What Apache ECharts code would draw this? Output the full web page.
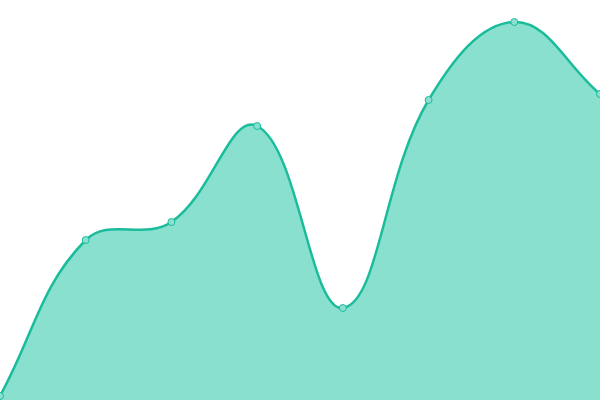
<!DOCTYPE html>
<html>
<head>
<meta charset="utf-8">
<script src="https://cdn.jsdelivr.net/npm/echarts@6/dist/echarts.min.js"></script>
<style>html,body{margin:0;padding:0;background:#fff}#c{width:600px;height:400px}</style>
</head>
<body>
<div id="c"></div>
<script>
var categories = ['A', 'B', 'C', 'D', 'E', 'F', 'G', 'H'];
var values = [4, 160, 178, 274, 92, 300, 378, 306];
var tension = 0.4;

function buildPaths(api) {
  var pts = values.map(function (v, i) { return api.coord([i, v]); });
  var base0 = api.coord([0, 0]);
  var baseN = api.coord([values.length - 1, 0]);
  var n = pts.length;
  var cps = [];
  for (var i = 0; i < n; i++) {
    var p1 = pts[i];
    var p0 = i > 0 ? pts[i - 1] : p1;
    var p2 = i < n - 1 ? pts[i + 1] : p1;
    var d01 = Math.hypot(p1[0] - p0[0], p1[1] - p0[1]);
    var d12 = Math.hypot(p2[0] - p1[0], p2[1] - p1[1]);
    var s01 = d01 / (d01 + d12) || 0;
    var s12 = d12 / (d01 + d12) || 0;
    var fa = tension * s01, fb = tension * s12;
    cps.push({
      prev: [p1[0] - fa * (p2[0] - p0[0]), p1[1] - fa * (p2[1] - p0[1])],
      next: [p1[0] + fb * (p2[0] - p0[0]), p1[1] + fb * (p2[1] - p0[1])]
    });
  }
  var d = 'M' + pts[0][0] + ' ' + pts[0][1];
  for (var j = 1; j < n; j++) {
    var a = cps[j - 1].next, b = cps[j].prev;
    d += ' C' + a[0] + ' ' + a[1] + ' ' + b[0] + ' ' + b[1] + ' ' + pts[j][0] + ' ' + pts[j][1];
  }
  var area = d + ' L' + baseN[0] + ' ' + baseN[1] + ' L' + base0[0] + ' ' + base0[1] + ' Z';
  return { line: d, area: area };
}

var chart = echarts.init(document.getElementById('c'));
chart.setOption({
  animation: false,
  grid: { left: 0, right: 0, top: 0, bottom: 0 },
  xAxis: { type: 'category', data: categories, boundaryGap: false, show: false },
  yAxis: { type: 'value', min: 0, max: 400, show: false },
  series: [{
    type: 'custom',
    data: [[0, 0]],
    z: 1,
    renderItem: function (params, api) {
      var p = buildPaths(api);
      return {
        type: 'group',
        children: [
          { type: 'path', shape: { pathData: p.area }, style: { fill: '#89e0cf', stroke: null } },
          { type: 'path', shape: { pathData: p.line }, style: { fill: null, stroke: '#1abc9c', lineWidth: 2.5 } }
        ]
      };
    }
  }, {
    type: 'line',
    data: values,
    z: 3,
    symbol: 'circle',
    symbolSize: 7,
    lineStyle: { opacity: 0 },
    itemStyle: { color: '#89e0cf', borderColor: '#1abc9c', borderWidth: 1 }
  }]
});
</script>
</body>
</html>
